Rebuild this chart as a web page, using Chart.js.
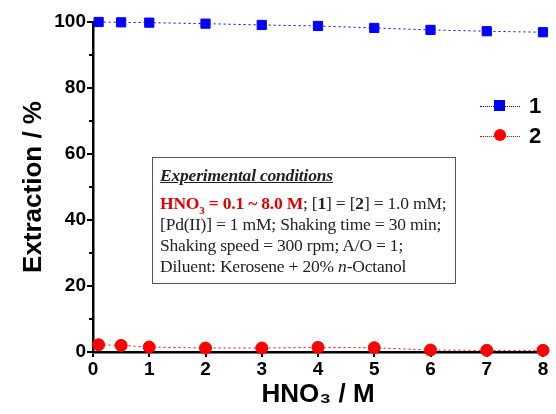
<!DOCTYPE html>
<html>
<head>
<meta charset="utf-8">
<script src="https://cdn.jsdelivr.net/npm/chart.js@4.4.0/dist/chart.umd.min.js"></script>
<style>
  html, body { margin: 0; padding: 0; background: #fff; }
  #wrap { position: relative; width: 556px; height: 414px; }
  #box {
    position: absolute; left: 152px; top: 157px; width: 304px; height: 127px;
    border: 1px solid #555; box-sizing: border-box; padding: 7px 7px;
    font-family: "Liberation Serif", "Times New Roman", serif; font-size: 17.5px; line-height: 21px; color: #222;
    letter-spacing: -0.2px; white-space: nowrap;
  }
  #box .ttl { font-weight: bold; font-style: italic; text-decoration: underline; margin-bottom: 7px; }
  #box .red { color: #e00000; font-weight: bold; }
  #box sub { font-size: 11px; line-height: 0; }
  #legend { position: absolute; left: 480px; top: 93px; font-family: "Liberation Sans", Arial, sans-serif; font-weight: bold; font-size: 22px; }
  .lg { position: relative; height: 30px; width: 70px; }
  .lg .ln { position: absolute; left: 0; top: 13px; width: 40px; border-top: 1px dotted; }
  .lg .mk { position: absolute; left: 14px; top: 7px; width: 11px; height: 11px; }
  .lg .tx { position: absolute; left: 49px; top: 0; }
</style>
</head>
<body>
<div id="wrap">
  <canvas id="c" width="556" height="414"></canvas>
  <div id="legend">
    <div class="lg"><div class="ln" style="border-color:#0000ff"></div><div class="mk" style="background:#0000ff"></div><div class="tx">1</div></div>
    <div class="lg"><div class="ln" style="border-color:#ff0000"></div><div class="mk" style="background:#ff0000;border-radius:50%;width:12px;height:12px;top:6px"></div><div class="tx">2</div></div>
  </div>
  <div id="box">
    <div class="ttl">Experimental conditions</div>
    <div><span class="red">HNO<sub>3</sub> = 0.1 ~ 8.0 M</span>; [<b>1</b>] = [<b>2</b>] = 1.0 mM;</div>
    <div>[Pd(II)] = 1 mM; Shaking time = 30 min;</div>
    <div>Shaking speed = 300 rpm; A/O = 1;</div>
    <div>Diluent: Kerosene + 20% <i>n</i>-Octanol</div>
  </div>
</div>
<script>
const hno3 = [0.1, 0.5, 1, 2, 3, 4, 5, 6, 7, 8];
const extraction1 = [100, 99.9, 99.8, 99.5, 99.1, 98.8, 98.2, 97.6, 97.2, 96.9];
const extraction2 = [2.2, 2.0, 1.5, 1.2, 1.2, 1.4, 1.3, 0.6, 0.5, 0.5];
const yMajor = [0, 20, 40, 60, 80, 100];
const yMinor = [10, 30, 50, 70, 90];

const minorTicks = {
  id: 'minorTicks',
  afterDraw(chart) {
    const ctx = chart.ctx, y = chart.scales.y;
    ctx.save();
    ctx.strokeStyle = '#000';
    ctx.lineWidth = 2;
    yMinor.forEach(v => {
      const py = y.getPixelForValue(v);
      ctx.beginPath();
      ctx.moveTo(y.right - 4, py);
      ctx.lineTo(y.right, py);
      ctx.stroke();
    });
    ctx.restore();
  }
};

const tickFont = { family: 'Liberation Sans, Arial, sans-serif', size: 19, weight: 'bold' };
const titleFont = { family: 'Liberation Sans, Arial, sans-serif', size: 26, weight: 'bold' };

new Chart(document.getElementById('c'), {
  type: 'line',
  data: {
    datasets: [
      { label: '1', data: hno3.map((x, i) => ({ x, y: extraction1[i] })), borderColor: '#0000ff', backgroundColor: '#0000ff',
        borderWidth: 1, borderDash: [2, 3], pointStyle: 'rect', pointRadius: 6.5, pointHoverRadius: 6.5, clip: false },
      { label: '2', data: hno3.map((x, i) => ({ x, y: extraction2[i] })), borderColor: '#ff0000', backgroundColor: '#ff0000',
        borderWidth: 1, borderDash: [2, 3], pointStyle: 'circle', pointRadius: 6, pointHoverRadius: 6, clip: false }
    ]
  },
  options: {
    responsive: false,
    animation: false,
    layout: { padding: { top: 22, right: 13, left: 0, bottom: 0 } },
    plugins: { legend: { display: false }, tooltip: { enabled: false } },
    scales: {
      x: {
        type: 'linear', min: 0, max: 8,
        afterFit: s => { s.height = 62; },
        border: { color: '#000', width: 2.5 },
        grid: { drawOnChartArea: false, color: '#000', lineWidth: 2, tickLength: 5 },
        ticks: { stepSize: 1, color: '#000', font: tickFont, padding: 1, maxRotation: 0 },
        title: { display: true, text: 'HNO₃ / M', color: '#000', font: titleFont, padding: { top: 6 } }
      },
      y: {
        min: 0, max: 100,
        afterFit: s => { s.width = 93; },
        afterBuildTicks: s => { s.ticks = yMajor.map(v => ({ value: v })); },
        border: { color: '#000', width: 2.5 },
        grid: { drawOnChartArea: false, color: '#000', lineWidth: 2, tickLength: 6 },
        ticks: { color: '#000', font: tickFont, padding: 1 },
        title: { display: true, text: 'Extraction / %', color: '#000', font: titleFont, padding: { top: 18, bottom: 0 } }
      }
    }
  },
  plugins: [minorTicks]
});
</script>
</body>
</html>
